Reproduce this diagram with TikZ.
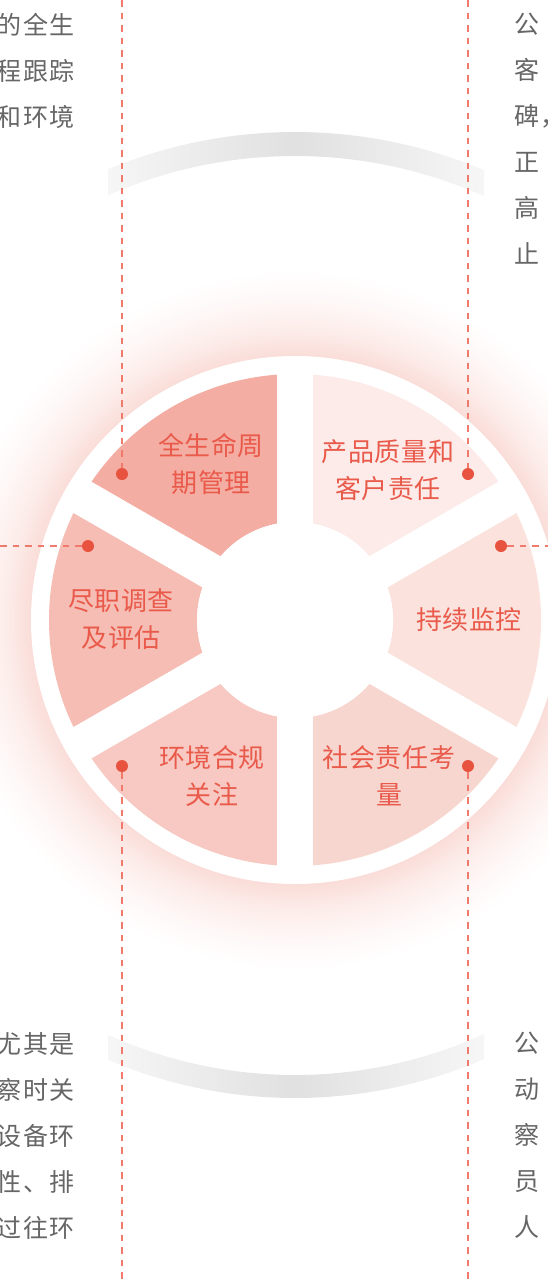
\documentclass[tikz,border=0pt]{standalone}
\usepackage{fontspec}
\usetikzlibrary{positioning}
\newfontfamily\cjk[LetterSpace=2]{Noto Sans CJK SC}
\newfontfamily\cjkbody[LetterSpace=6]{Noto Sans CJK SC}
\definecolor{labelred}{HTML}{E95A4B}
\definecolor{dotred}{HTML}{E8533F}
\definecolor{dashred}{HTML}{F07A6C}
\definecolor{bodygray}{HTML}{666666}
\definecolor{glowpink}{HTML}{FADDD8}
\definecolor{secLife}{HTML}{F4ADA3}
\definecolor{secQuality}{HTML}{FCEBE8}
\definecolor{secMonitor}{HTML}{FBE2DD}
\definecolor{secSocial}{HTML}{F8D6D0}
\definecolor{secEnv}{HTML}{F7C9C2}
\definecolor{secDue}{HTML}{F6BDB4}
% radius 350 of the circle sits at 25bp of the shading
\pgfdeclareradialshading{wheelglow}{\pgfpoint{0bp}{0bp}}{color(0bp)=(glowpink); color(18.9bp)=(glowpink); color(20.7bp)=(glowpink!55!white); color(22.9bp)=(glowpink!20!white); color(25bp)=(white); color(50bp)=(white)}
\tikzset{
    bodytext/.style={font=\cjkbody\fontsize{25}{46}\selectfont, text=bodygray, inner sep=0pt},
    seglabel/.style={font=\cjk\fontsize{26}{37}\selectfont, text=labelred, align=center, inner sep=0pt},
    dot/.style={circle, fill=dotred, inner sep=0pt, minimum size=12pt},
    leader/.style={draw=dashred, line width=1.5pt, dash pattern=on 6.5pt off 6pt},
    bandshade/.style={left color=black!1, right color=black!1, middle color=black!12}
}

\begin{document}
\begin{tikzpicture}[x=1pt, y=-1pt]
    \useasboundingbox (0,0) rectangle (548,1283);
    \clip (0,0) rectangle (548,1283);
    \coordinate (c) at (295,620);

    % Glow and wheel
    \shade[shading=wheelglow] (c) circle (350);
    \fill[white] (c) circle (264);
    \begin{scope}[shift={(c)}]
        \foreach \a/\col in {210/secLife, 270/secQuality, 330/secMonitor, 30/secSocial, 90/secEnv, 150/secDue}
            \fill[\col] (\a:246) arc[start angle=\a, end angle=\a+60, radius=246] -- ({\a+60}:98) arc[start angle=\a+60, end angle=\a, radius=98] -- cycle;
        \foreach \a in {30,90,...,330}
            \draw[white, line width=36pt] (0,0) -- (\a:252);
        \fill[white] (0,0) circle (98);
    \end{scope}

    % Grey bands
    \begin{scope}
        \clip (108,0) rectangle (484,1283);
        \shade[bandshade, shift={(c)}] (240:488) arc[start angle=240, end angle=300, radius=488] -- (300:464) arc[start angle=300, end angle=240, radius=464] -- cycle;
        \shade[bandshade, shift={(c)}] (60:478) arc[start angle=60, end angle=120, radius=478] -- (120:455) arc[start angle=120, end angle=60, radius=455] -- cycle;
    \end{scope}

    % Segment labels
    \node[seglabel] (lblLife) at (211,464) {全生命周\\期管理};
    \node[seglabel] (lblQuality) at (388,470) {产品质量和\\客户责任};
    \node[seglabel] (lblMonitor) at (469,620) {持续监控};
    \node[seglabel] (lblDue) at (121,619) {尽职调查\\及评估};
    \node[seglabel] (lblEnv) at (212,776) {环境合规\\关注};
    \node[seglabel] (lblSocial) at (389,776) {社会责任考\\量};

    % Side texts
    \node[bodytext, align=right, anchor=north east] (txtTL) at (75,13) {的全生\\程跟踪\\和环境};
    \node[bodytext, align=left, anchor=north west] (txtTR) at (514,13) {公\\客\\碑，\\正\\高\\止};
    \node[bodytext, align=right, anchor=north east] (txtBL) at (75,1032) {尤其是\\察时关\\设备环\\性、排\\过往环};
    \node[bodytext, align=left, anchor=north west] (txtBR) at (514,1032) {公\\动\\察\\员\\人};

    % Dots
    \node[dot] (dLife) at (122,474) {};
    \node[dot] (dQuality) at (468,474) {};
    \node[dot] (dDue) at (88,546) {};
    \node[dot] (dMonitor) at (501,546) {};
    \node[dot] (dEnv) at (122,766) {};
    \node[dot] (dSocial) at (468,766) {};

    % Leader ends at the border
    \coordinate (eLife) at (122,0);
    \coordinate (eQuality) at (468,0);
    \coordinate (eDue) at (0,546);
    \coordinate (eMonitor) at (548,546);
    \coordinate (eEnv) at (122,1283);
    \coordinate (eSocial) at (468,1283);

    % Leaders
    \draw[leader] (eLife) -- (dLife);
    \draw[leader] (eQuality) -- (dQuality);
    \draw[leader] (eDue) -- (dDue);
    \draw[leader] (dMonitor) -- (eMonitor);
    \draw[leader] (dEnv) -- (eEnv);
    \draw[leader] (dSocial) -- (eSocial);

\end{tikzpicture}
\end{document}
